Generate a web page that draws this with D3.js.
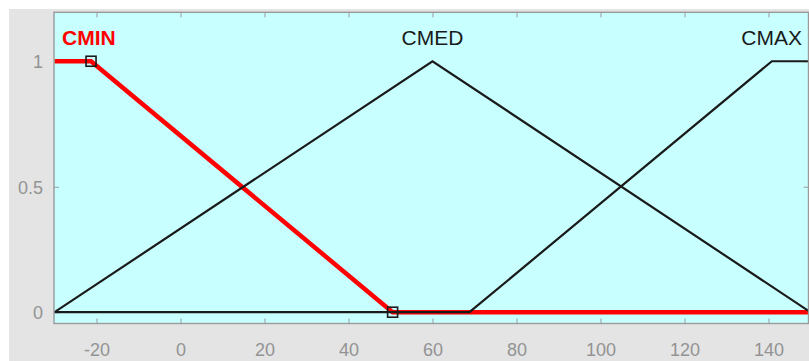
<!DOCTYPE html>
<html>
<head>
<meta charset="utf-8">
<script src="https://cdn.jsdelivr.net/npm/d3@7/dist/d3.min.js"></script>
<style>
  html, body { margin: 0; padding: 0; background: #ffffff; }
  svg { display: block; }
  text { font-family: "Liberation Sans", Arial, Helvetica, sans-serif; }
</style>
</head>
<body>
<svg id="chart" width="809" height="361"></svg>
<script>
// Membership functions of the input variable (x range and breakpoints)
const xDomain = [-30, 150];
const yDomain = [-0.045, 1.195];
const xTicks = [-20, 0, 20, 40, 60, 80, 100, 120, 140];
const yTicks = [0, 0.5, 1];
const yTickLabels = ["0", "0.5", "1"];

const mfNames = ["CMIN", "CMED", "CMAX"];
// breakpoints [x, membership] for each function
const cminPts = [[-30, 1], [-21.3, 1], [50.5, 0], [150, 0]];
const cmedPts = [[-30, 0], [60, 1], [150, 0]];
const cmaxPts = [[-30, 0], [68.8, 0], [140.8, 1], [150, 1]];
// vertices of the selected function that carry handles
const cminHandles = [[-21.3, 1], [50.5, 0]];

const svg = d3.select("#chart");
const W = 809, H = 361;
const plot = { left: 54, right: 808.5, top: 12.3, bottom: 323.5 };

// figure background
svg.append("rect").attr("x", 9).attr("y", 9).attr("width", W - 9).attr("height", H - 9)
  .attr("fill", "#e4e4e4");

const x = d3.scaleLinear().domain(xDomain).range([54.5, 810.5]);
const y = d3.scaleLinear().domain(yDomain).range([plot.bottom, plot.top]);

// axes area
svg.append("rect")
  .attr("x", plot.left).attr("y", plot.top)
  .attr("width", plot.right - plot.left).attr("height", plot.bottom - plot.top)
  .attr("fill", "#c8ffff");

svg.append("defs").append("clipPath").attr("id", "clip")
  .append("rect")
  .attr("x", plot.left).attr("y", plot.top)
  .attr("width", plot.right - plot.left).attr("height", plot.bottom - plot.top);

const axisColor = "#9a9a9a";
const labelColor = "#939393";
const tickLen = 5;

// bottom axis (ticks inward)
const xAxisBottom = d3.axisBottom(x).tickValues(xTicks).tickSize(-tickLen).tickPadding(16)
  .tickFormat(d3.format("d"));
const gxb = svg.append("g").attr("transform", `translate(0,${plot.bottom})`).call(xAxisBottom);
gxb.select(".domain").remove();
gxb.selectAll(".tick line").attr("stroke", axisColor);
gxb.selectAll(".tick text").attr("fill", labelColor).attr("font-size", 18)
  .attr("dy", null).attr("y", 32.5)
  .text(d => d < 0 ? "-" + Math.abs(d) : String(d));

// top axis ticks
const gxt = svg.append("g").attr("transform", `translate(0,${plot.top})`)
  .call(d3.axisTop(x).tickValues(xTicks).tickSize(-tickLen).tickFormat(""));
gxt.select(".domain").remove();
gxt.selectAll(".tick line").attr("stroke", axisColor);

// left axis
const gyl = svg.append("g").attr("transform", `translate(${plot.left},0)`)
  .call(d3.axisLeft(y).tickValues(yTicks).tickSize(-tickLen).tickPadding(11)
    .tickFormat((d, i) => yTickLabels[i]));
gyl.select(".domain").remove();
gyl.selectAll(".tick line").attr("stroke", axisColor);
gyl.selectAll(".tick text").attr("fill", labelColor).attr("font-size", 18).attr("dy", "0.35em");

// right axis ticks
const gyr = svg.append("g").attr("transform", `translate(${plot.right},0)`)
  .call(d3.axisRight(y).tickValues(yTicks).tickSize(-tickLen).tickFormat(""));
gyr.select(".domain").remove();
gyr.selectAll(".tick line").attr("stroke", axisColor);

const line = d3.line().x(d => x(d[0])).y(d => y(d[1]));
const curves = svg.append("g").attr("clip-path", "url(#clip)");

// selected function in red, drawn underneath
curves.append("path").datum(cminPts).attr("d", line)
  .attr("fill", "none").attr("stroke", "#ff0000").attr("stroke-width", 4.5)
  .attr("stroke-linejoin", "miter");

[cmedPts, cmaxPts].forEach(pts => {
  curves.append("path").datum(pts).attr("d", line)
    .attr("fill", "none").attr("stroke", "#1a1a1a").attr("stroke-width", 2.2);
});

// handle squares on the selected function
curves.selectAll("rect.handle").data(cminHandles).join("rect")
  .attr("class", "handle")
  .attr("x", d => x(d[0]) - 5).attr("y", d => y(d[1]) - 5)
  .attr("width", 10).attr("height", 10)
  .attr("fill", "none").attr("stroke", "#1a1a1a").attr("stroke-width", 1.6);

// frame
svg.append("rect")
  .attr("x", plot.left).attr("y", plot.top)
  .attr("width", plot.right - plot.left).attr("height", plot.bottom - plot.top)
  .attr("fill", "none").attr("stroke", axisColor).attr("stroke-width", 1.4);

// function names
const labelY = 45;
svg.append("text").attr("x", 62).attr("y", labelY).attr("font-size", 21)
  .attr("font-weight", "bold").attr("fill", "#ff0000").text(mfNames[0]);
svg.append("text").attr("x", x(60)).attr("y", labelY).attr("font-size", 21)
  .attr("text-anchor", "middle").attr("fill", "#1a1a1a").text(mfNames[1]);
svg.append("text").attr("x", 802).attr("y", labelY).attr("font-size", 21)
  .attr("text-anchor", "end").attr("fill", "#1a1a1a").text(mfNames[2]);
</script>
</body>
</html>
